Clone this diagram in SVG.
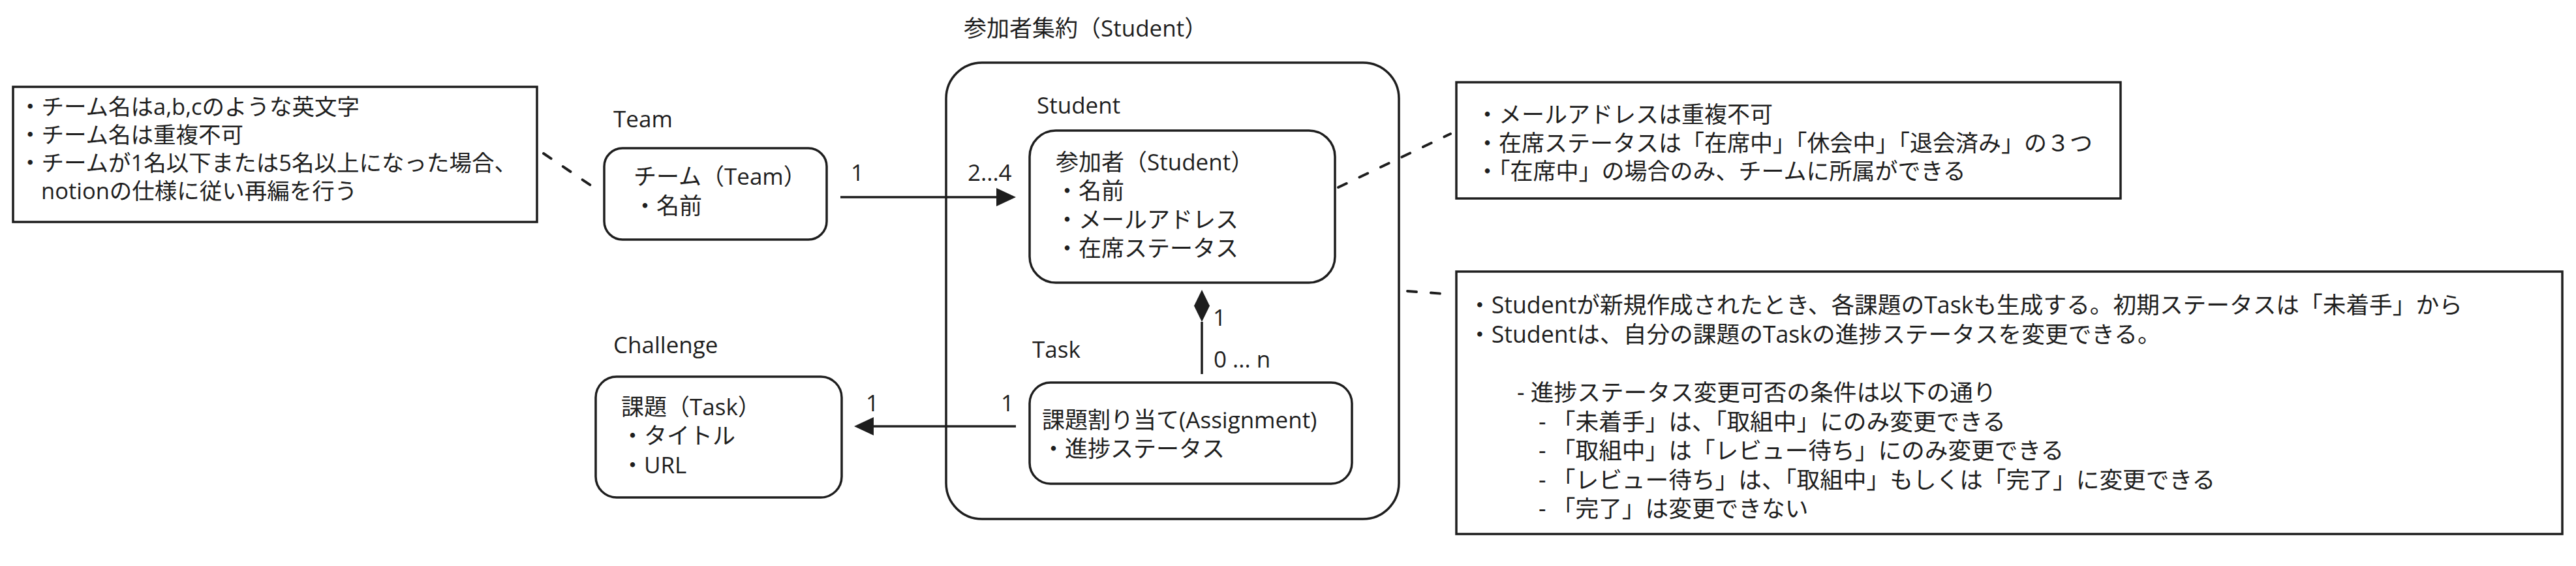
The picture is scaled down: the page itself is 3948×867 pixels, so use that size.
<svg xmlns="http://www.w3.org/2000/svg" width="3948" height="867" viewBox="0 0 3948 867">
<style>
text{font-family:"Open Sans","Noto Sans CJK JP",sans-serif;font-size:35px;fill:#1e1e1e}
.n1 text{font-size:34.5px}
.n3 text{font-size:35.7px}
.box{fill:#fff;stroke:#1e1e1e;stroke-width:3.5}
.note{fill:#fff;stroke:#1e1e1e;stroke-width:3.5}
.conn{fill:none;stroke:#1e1e1e;stroke-width:3.5}
.dash{fill:none;stroke:#1e1e1e;stroke-width:4;stroke-linecap:round;stroke-dasharray:14 22}
</style>
<defs>
<marker id="tri" markerUnits="userSpaceOnUse" markerWidth="30" markerHeight="28" refX="0" refY="14" orient="auto" overflow="visible">
<path d="M0,0 L30,14 L0,28 z" fill="#1e1e1e"/>
</marker>
<marker id="dia" markerUnits="userSpaceOnUse" markerWidth="49" markerHeight="24" refX="0" refY="12" orient="auto" overflow="visible">
<path d="M0,12 L24.5,0 L49,12 L24.5,24 z" fill="#1e1e1e"/>
</marker>
</defs>
<rect width="3948" height="867" fill="#fff"/>
<g id="aggregate">
<rect class="box" x="1450" y="96" width="694" height="699" rx="55"/>
<text x="1477" y="56">参加者集約（Student）</text>
</g>
<g id="note-team" class="n1">
<rect class="note" x="20" y="133" width="803" height="207"/>
<text x="29" y="176">・チーム名はa,b,cのような英文字</text>
<text x="29" y="219">・チーム名は重複不可</text>
<text x="29" y="262">・チームが1名以下または5名以上になった場合、</text>
<text x="63" y="305">notionの仕様に従い再編を行う</text>
</g>
<g id="team">
<text x="940" y="195">Team</text>
<rect class="box" x="926" y="227" width="341" height="140" rx="28"/>
<text x="971" y="283">チーム（Team）</text>
<text x="971" y="328">・名前</text>
</g>
<g id="student">
<text x="1589" y="174">Student</text>
<rect class="box" x="1578" y="200" width="468" height="233" rx="40"/>
<text x="1618" y="261">参加者（Student）</text>
<text x="1618" y="305">・名前</text>
<text x="1618" y="349">・メールアドレス</text>
<text x="1618" y="393">・在席ステータス</text>
</g>
<g id="task">
<text x="1582" y="548">Task</text>
<rect class="box" x="1578" y="586" width="494" height="155" rx="32"/>
<text x="1597" y="656">課題割り当て(Assignment)</text>
<text x="1597" y="700">・進捗ステータス</text>
</g>
<g id="challenge">
<text x="940" y="541">Challenge</text>
<rect class="box" x="913" y="577" width="377" height="185" rx="32"/>
<text x="952" y="636">課題（Task）</text>
<text x="952" y="680">・タイトル</text>
<text x="952" y="725">・URL</text>
</g>
<g id="note-student">
<rect class="note" x="2232" y="126" width="1018" height="178"/>
<text x="2262" y="188">・メールアドレスは重複不可</text>
<text x="2262" y="231.5">・在席ステータスは「在席中」「休会中」「退会済み」の３つ</text>
<text x="2262" y="275">・「在席中」の場合のみ、チームに所属ができる</text>
</g>
<g id="note-task" class="n3">
<rect class="note" x="2232" y="416" width="1695" height="402"/>
<text x="2250" y="480">・Studentが新規作成されたとき、各課題のTaskも生成する。初期ステータスは「未着手」から</text>
<text x="2250" y="524.6">・Studentは、自分の課題のTaskの進捗ステータスを変更できる。</text>
<text x="2325" y="614">- 進捗ステータス変更可否の条件は以下の通り</text>
<text x="2358" y="658.6">- 「未着手」は、「取組中」にのみ変更できる</text>
<text x="2358" y="703">- 「取組中」は「レビュー待ち」にのみ変更できる</text>
<text x="2358" y="747.6">- 「レビュー待ち」は、「取組中」もしくは「完了」に変更できる</text>
<text x="2358" y="792">- 「完了」は変更できない</text>
</g>
<g id="connectors">
<path class="dash" d="M833,235 L910,287"/>
<path class="dash" d="M2051,287 L2223,205"/>
<path class="dash" d="M2157,446 L2212,450"/>
<path class="conn" d="M1288,302 H1527" marker-end="url(#tri)"/>
<text x="1304" y="277">1</text>
<text x="1483" y="277">2...4</text>
<path class="conn" d="M1557,653 H1339" marker-end="url(#tri)"/>
<text x="1327" y="630">1</text>
<text x="1534" y="630">1</text>
<path class="conn" d="M1842,573 V493" marker-end="url(#dia)"/>
<text x="1859" y="499">1</text>
<text x="1860" y="563">0 ... n</text>
</g>
</svg>
